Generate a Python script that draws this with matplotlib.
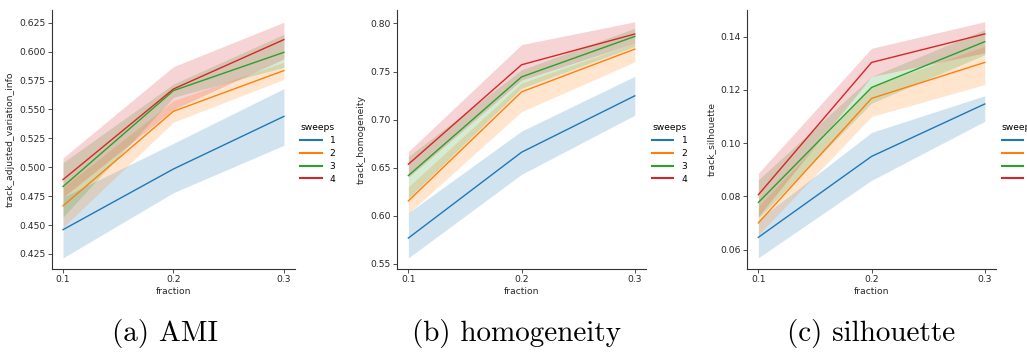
import matplotlib
matplotlib.use("Agg")
import matplotlib.pyplot as plt

fraction = [0.1, 0.2, 0.3]
sweeps = ["1", "2", "3", "4"]
colors = ["#1f77b4", "#ff7f0e", "#2ca02c", "#d62728"]

# AMI (track_adjusted_variation_info): mean, lower CI, upper CI per sweep
ami_mean = [[0.446, 0.4985, 0.544], [0.4666, 0.5484, 0.5836],
            [0.4833, 0.5663, 0.5994], [0.4893, 0.5677, 0.6104]]
ami_low = [[0.4216, 0.478, 0.519], [0.448, 0.539, 0.576],
           [0.457, 0.5605, 0.5865], [0.474, 0.550, 0.5937]]
ami_high = [[0.474, 0.5207, 0.568], [0.4827, 0.5576, 0.5908],
            [0.504, 0.572, 0.615], [0.508, 0.587, 0.6254]]

# homogeneity
hom_mean = [[0.5767, 0.666, 0.7247], [0.6153, 0.7288, 0.7733],
            [0.6417, 0.7444, 0.7865], [0.6535, 0.757, 0.789]]
hom_low = [[0.556, 0.643, 0.7045], [0.6024, 0.7083, 0.760],
           [0.618, 0.7326, 0.776], [0.640, 0.741, 0.7795]]
hom_high = [[0.603, 0.688, 0.745], [0.630, 0.738, 0.7795],
            [0.6615, 0.7517, 0.795], [0.6667, 0.778, 0.8017]]

# silhouette
sil_mean = [[0.0646, 0.095, 0.1147], [0.070, 0.1168, 0.1303],
            [0.0777, 0.1209, 0.1381], [0.0806, 0.1303, 0.141]]
sil_low = [[0.0569, 0.086, 0.1082], [0.0655, 0.110, 0.122],
           [0.0718, 0.115, 0.1332], [0.0724, 0.125, 0.1339]]
sil_high = [[0.0712, 0.104, 0.1178], [0.0762, 0.1213, 0.1364],
            [0.0862, 0.125, 0.1426], [0.0887, 0.1356, 0.1456]]

panels = [
    dict(ylabel="track_adjusted_variation_info", mean=ami_mean, low=ami_low, high=ami_high,
         yticks=[0.425, 0.450, 0.475, 0.500, 0.525, 0.550, 0.575, 0.600, 0.625],
         fmt="{:.3f}", ylim=(0.412, 0.636), rect=[0.0506, 0.2444, 0.2366, 0.7275],
         leg_x=0.2863, caption="(a) AMI", cap_x=0.161),
    dict(ylabel="track_homogeneity", mean=hom_mean, low=hom_low, high=hom_high,
         yticks=[0.55, 0.60, 0.65, 0.70, 0.75, 0.80],
         fmt="{:.2f}", ylim=(0.5445, 0.814), rect=[0.3866, 0.2444, 0.2425, 0.7275],
         leg_x=0.6290, caption="(b) homogeneity", cap_x=0.503),
    dict(ylabel="track_silhouette", mean=sil_mean, low=sil_low, high=sil_high,
         yticks=[0.06, 0.08, 0.10, 0.12, 0.14],
         fmt="{:.2f}", ylim=(0.0527, 0.150), rect=[0.7274, 0.2444, 0.2425, 0.7275],
         leg_x=0.9690, caption="(c) silhouette", cap_x=0.848),
]

fig = plt.figure(figsize=(10.27, 3.56), dpi=100)
fs = 6.6

for p in panels:
    ax = fig.add_axes(p["rect"])
    handles = []
    for i, s in enumerate(sweeps):
        ax.fill_between(fraction, p["low"][i], p["high"][i], color=colors[i],
                        alpha=0.2, linewidth=0)
        (h,) = ax.plot(fraction, p["mean"][i], color=colors[i], lw=1.0, label=s)
        handles.append(h)
    ax.set_xlim(0.09, 0.31)
    ax.set_ylim(*p["ylim"])
    ax.set_xticks(fraction)
    ax.set_xticklabels([f"{f:.1f}" for f in fraction])
    ax.set_yticks(p["yticks"])
    ax.set_yticklabels([p["fmt"].format(v) for v in p["yticks"]])
    ax.tick_params(labelsize=fs, length=2.6, width=0.6, pad=2, color="#333333",
                   labelcolor="#262626")
    for side in ("top", "right"):
        ax.spines[side].set_visible(False)
    for side in ("left", "bottom"):
        ax.spines[side].set_linewidth(0.8)
        ax.spines[side].set_color("#333333")
    ax.set_xlabel("fraction", fontsize=fs, color="#262626", labelpad=2)
    ax.set_ylabel(p["ylabel"], fontsize=fs, color="#262626", labelpad=3)
    leg = fig.legend(handles=handles, labels=sweeps, title="sweeps", loc="center left",
                     bbox_to_anchor=(p["leg_x"], 0.569), frameon=False, fontsize=fs,
                     title_fontsize=fs, handlelength=2.3, handletextpad=0.9,
                     labelspacing=0.42, borderpad=0.2, alignment="left")
    for line in leg.get_lines():
        line.set_linewidth(1.5)
    fig.text(p["cap_x"], 0.042, p["caption"], family="cmr10", fontsize=21,
             ha="center", va="baseline")

fig.savefig("out.png", dpi=100)
